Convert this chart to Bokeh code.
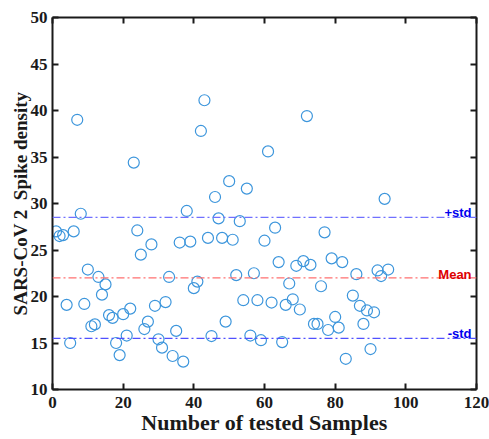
from bokeh.plotting import figure
from bokeh.models import Range1d, LinearAxis, Span, Label, FixedTicker
from bokeh.embed import file_html
from bokeh.resources import INLINE

# ---- data ----
samples = [1, 2, 3, 4, 5, 6, 7, 8, 9, 10, 11, 12, 13, 14, 15, 16, 17, 18, 19, 20,
           21, 22, 23, 24, 25, 26, 27, 28, 29, 30, 31, 32, 33, 34, 35, 36, 37, 38, 39, 40,
           41, 42, 43, 44, 45, 46, 47, 48, 49, 50, 51, 52, 53, 54, 55, 56, 57, 58, 59, 60,
           61, 62, 63, 64, 65, 66, 67, 68, 69, 70, 71, 72, 73, 74, 75, 76, 77, 78, 79, 80,
           81, 82, 83, 85, 86, 87, 88, 89, 90, 91, 92, 93, 94, 95]
density = [27.0, 26.5, 26.6, 19.1, 15.0, 27.0, 39.0, 28.9, 19.2, 22.9,
           16.8, 17.0, 22.1, 20.2, 21.3, 18.0, 17.7, 15.0, 13.7, 18.1,
           15.8, 18.7, 34.4, 27.1, 24.5, 16.5, 17.3, 25.6, 19.0, 15.4,
           14.5, 19.4, 22.1, 13.6, 16.3, 25.8, 13.0, 29.2, 25.9, 20.9,
           21.6, 37.8, 41.1, 26.3, 15.75, 30.7, 28.4, 26.3, 17.3, 32.4,
           26.1, 22.3, 28.1, 19.6, 31.6, 15.8, 22.5, 19.6, 15.3, 26.0,
           35.6, 19.35, 27.4, 23.7, 15.1, 19.1, 21.4, 19.7, 23.3, 18.6,
           23.8, 39.4, 23.4, 17.05, 17.05, 21.1, 26.9, 16.4, 24.1, 17.8,
           16.65, 23.7, 13.3, 20.1, 22.4, 19.0, 17.05, 18.5, 14.35, 18.3,
           22.8, 22.2, 30.5, 22.9]
mean_value = 22.0
std_value = 6.5
line_labels = ["+std", "Mean", "-std"]
x_ticks = [0, 20, 40, 60, 80, 100, 120]
y_ticks = [10, 15, 20, 25, 30, 35, 40, 45, 50]
x_title = "Number of tested Samples"
y_title = "SARS-CoV 2\u00a0 Spike density"

SERIF = "Liberation Serif"
SANS = "Liberation Sans"
INK = "#1a1a1a"

p = figure(width=489, height=439, output_backend="svg", toolbar_location=None,
           x_range=Range1d(0, 120), y_range=Range1d(10, 50),
           min_border_left=52, min_border_right=13, min_border_top=17, min_border_bottom=50)
p.outline_line_color = None
p.xgrid.visible = False
p.ygrid.visible = False
p.background_fill_color = "white"
p.border_fill_color = "white"

def style_axis(ax, ticks, show_labels):
    ax.ticker = FixedTicker(ticks=ticks)
    ax.axis_line_color = INK
    ax.axis_line_width = 2
    ax.major_tick_line_color = INK
    ax.major_tick_line_width = 2
    ax.major_tick_in = 6
    ax.major_tick_out = 0
    ax.minor_tick_line_color = None
    ax.major_label_text_font = SERIF
    ax.major_label_text_font_style = "bold"
    ax.major_label_text_font_size = "17px"
    ax.major_label_text_color = INK
    if not show_labels:
        ax.major_label_text_font_size = "1px"
        ax.major_label_text_color = None
        ax.major_label_standoff = 0
        ax.axis_label_standoff = 0

xa = p.xaxis[0]
ya = p.yaxis[0]
style_axis(xa, x_ticks, True)
style_axis(ya, y_ticks, True)
xa.major_label_standoff = 7
ya.major_label_standoff = 5
xa.axis_label = x_title
ya.axis_label = y_title
for ax in (xa, ya):
    ax.axis_label_text_font = SERIF
    ax.axis_label_text_font_style = "bold"
    ax.axis_label_text_color = INK
xa.axis_label_text_font_size = "22px"
ya.axis_label_text_font_size = "19px"
xa.axis_label_standoff = -1
ya.axis_label_standoff = -3

top = LinearAxis()
right = LinearAxis()
style_axis(top, x_ticks, False)
style_axis(right, y_ticks, False)
p.add_layout(top, "above")
p.add_layout(right, "right")

# reference lines
dash = "8 3 2 3"
p.add_layout(Span(location=mean_value + std_value, dimension="width",
                  line_color="#7070ff", line_width=1.2, line_dash=dash))
p.add_layout(Span(location=mean_value, dimension="width",
                  line_color="#ff7070", line_width=1.2, line_dash=dash))
p.add_layout(Span(location=mean_value - std_value, dimension="width",
                  line_color="#5050ff", line_width=1.2, line_dash=dash))

label_y = [mean_value + std_value + 0.5, mean_value + 0.4, mean_value - std_value + 0.5]
label_colors = ["#0000ee", "#dd0000", "#0000ee"]
for txt, yy, col in zip(line_labels, label_y, label_colors):
    p.add_layout(Label(x=118.6, y=yy, text=txt, text_color=col, text_font=SANS,
                       text_font_style="bold", text_font_size="13px", text_align="right",
                       text_baseline="alphabetic"))

p.scatter(samples, density, marker="circle", size=11, fill_color=None,
          line_color="#3d96dc", line_width=1.2)

open("out.html", "w").write(file_html(p, INLINE))
